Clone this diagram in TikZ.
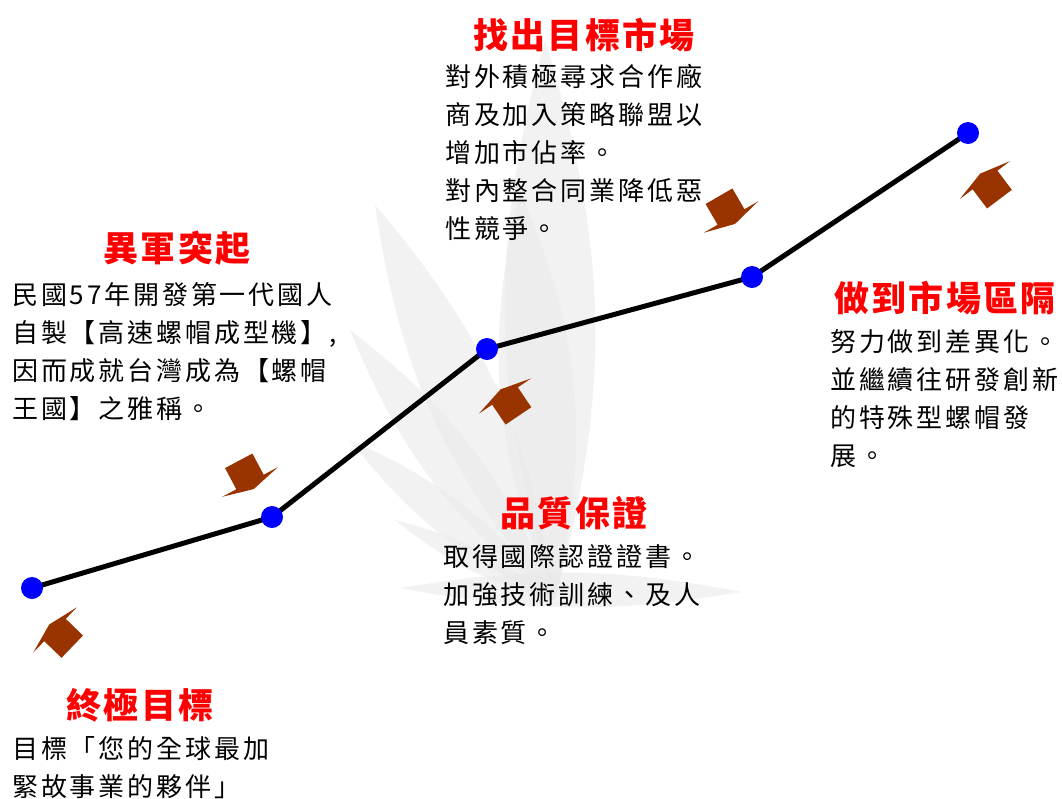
\documentclass[tikz,border=0pt]{standalone}
\usepackage{fontspec}
\usepackage{xcolor}
\usepackage{tikz}
\usetikzlibrary{arrows,shapes,positioning}

\newfontfamily\bodycjk[LetterSpace=11]{Noto Sans CJK TC}
\newfontfamily\titlecjk[LetterSpace=6]{Noto Sans CJK TC}
\definecolor{stepbrown}{RGB}{153,51,0}

\begin{document}
\begin{tikzpicture}[x=1pt, y=1pt,
	heading/.style={text=red, inner sep=0pt, font=\titlecjk\bfseries\fontsize{35}{40}\selectfont},
	blurb/.style={anchor=north west, align=left, inner sep=0pt, font=\bodycjk\fontsize{26}{38}\selectfont},
	milestone/.style={circle, fill=blue, minimum size=22pt, inner sep=0pt},
	leaf/.style={fill=black!9, opacity=0.55},
	housearrow/.pic={\fill[stepbrown] (-31.5,0) -- (0,8) -- (31.5,0) -- (15.5,0) -- (15.5,-24) -- (-15.5,-24) -- (-15.5,0) -- cycle;}]
	\useasboundingbox (0,0) rectangle (1062,-798);
	
	% faint leaves behind everything
	\coordinate (root) at (555,-600);
	\fill[leaf] (root) to[bend left=16] (545,-40) to[bend left=16] (root);
	\fill[leaf] (root) to[bend left=18] (520,-190) to[bend left=18] (root);
	\fill[leaf] (root) to[bend left=16] (375,-205) to[bend left=16] (root);
	\fill[leaf] (root) to[bend left=15] (350,-330) to[bend left=15] (root);
	\fill[leaf] (root) to[bend left=14] (350,-440) to[bend left=14] (root);
	\fill[leaf] (root) to[bend left=12] (395,-520) to[bend left=12] (root);
	\fill[leaf] (400,-588) to[bend left=10] (742,-592) to[bend left=10] (400,-588);
	
	% the growth line
	\coordinate (c1) at (32,-588);
	\coordinate (c2) at (272,-517);
	\coordinate (c3) at (487,-349);
	\coordinate (c4) at (752,-277);
	\coordinate (c5) at (968,-133);
	\draw[line width=5pt, line join=round] (c1) -- (c2) -- (c3) -- (c4) -- (c5);
	\foreach \i in {1,...,5}
		\node[milestone] (m\i) at (c\i) {};
	
	% arrows next to each step
	\pic[rotate=46] at (55,-630) {housearrow};
	\pic[rotate=-152] at (250,-482) {housearrow};
	\pic[rotate=34] at (505,-396) {housearrow};
	\pic[rotate=-150] at (731,-217) {housearrow};
	\pic[rotate=37] at (985,-180) {housearrow};
	
	% labels
	\node[heading] (goalT) at (140,-705) {終極目標};
	\node[blurb] (goalB) at (12,-736) {目標「您的全球最加\\緊故事業的夥伴」};
	
	\node[heading] (riseT) at (177,-248) {異軍突起};
	\node[blurb] (riseB) at (12,-282) {民國57年開發第一代國人\\自製【高速螺帽成型機】,\\因而成就台灣成為【螺帽\\王國】之雅稱。};
	
	\node[heading] (qualityT) at (574,-513) {品質保證};
	\node[blurb] (qualityB) at (443,-544) {取得國際認證證書。\\加強技術訓練、及人\\員素質。};
	
	\node[heading] (marketT) at (584,-35) {找出目標市場};
	\node[blurb] (marketB) at (445,-64) {對外積極尋求合作廠\\商及加入策略聯盟以\\增加市佔率。\\對內整合同業降低惡\\性競爭。};
	
	\node[heading] (segmentT) at (945,-298) {做到市場區隔};
	\node[blurb] (segmentB) at (830,-329) {努力做到差異化。\\並繼續往研發創新\\的特殊型螺帽發\\展。};
\end{tikzpicture}
\end{document}
